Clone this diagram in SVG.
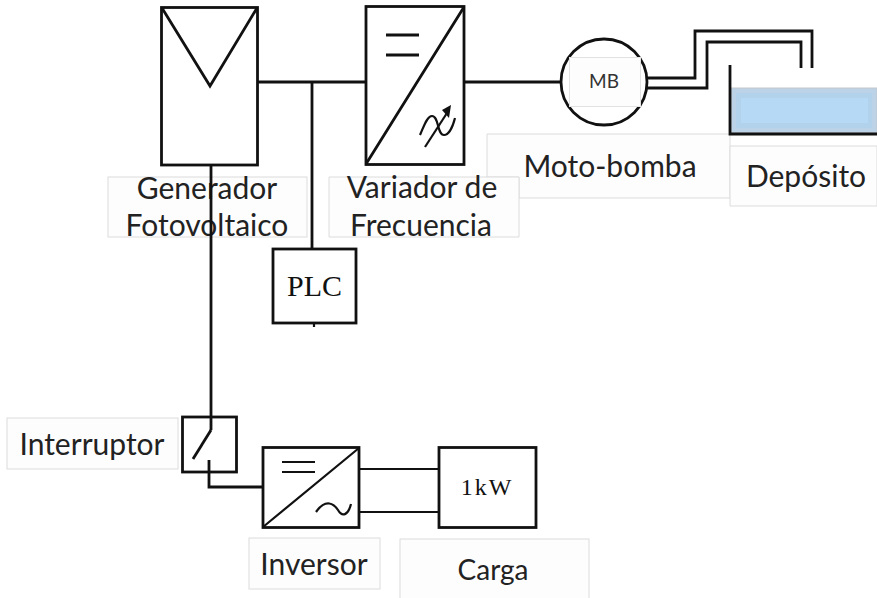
<svg xmlns="http://www.w3.org/2000/svg" width="877" height="598" viewBox="0 0 877 598">
<style>
.s{fill:none;stroke:#111;stroke-width:2.800;stroke-linecap:butt}
.t{stroke-width:2.200}
.l{fill:#fdfdfd;stroke:#dcdcdc;stroke-width:1}
.x{font-family:"Lato","Open Sans",sans-serif;font-size:30px;fill:#222;text-anchor:middle}
.r{font-family:"Liberation Serif",serif;fill:#111;text-anchor:middle}
</style>
<rect width="877" height="598" fill="#fff"/>
<g id="label-motobomba"><path class="l" d="M487 134H730V198H519V177H487Z"/><text class="x" x="610" y="177">Moto-bomba</text></g>
<g id="label-deposito"><path class="l" d="M730 146H877V206H730Z"/><text class="x" x="806" y="187">Depósito</text></g>
<g id="label-variador"><path class="l" d="M329 177H519V237H329Z"/><text class="x" x="422" y="198">Variador de</text><text class="x" x="421" y="236">Frecuencia</text></g>
<g id="label-generador"><rect class="l" x="108" y="177" width="199" height="60"/><text class="x" x="207" y="199">Generador</text><text class="x" x="207" y="236">Fotovoltaico</text></g>
<g id="connectors">
<path class="s" d="M258 82H366M312 82V249M464 82H562M211 165V430M209 460V487H263"/>
<path class="s" d="M646 78H695V31H812V68M646 88H707V42H801V68"/>
<path class="s t" d="M359 469H439M359 512H439M314 323V327"/>
</g>
<g id="generador"><rect class="s" x="161.500" y="7.500" width="96" height="157.500"/><path class="s" d="M162 8L210 86L257 8"/></g>
<g id="variador"><rect class="s" x="366" y="6.500" width="98" height="158"/><path class="s" d="M366 164L464 7M386 35H419M386 55H419"/><path class="s t" d="M425 147L447 113"/><path d="M451 105L442 110L449 118Z" fill="#111"/><path class="s t" d="M420 135C424 126 427 116 432 116C439 116 437 135 444 135C449 135 453 126 455 118"/></g>
<g id="motobomba"><circle class="s" cx="604" cy="82" r="43"/><rect x="569.500" y="57.500" width="71" height="49" fill="#fdfdfd" stroke="#e2e2e2"/><text x="604" y="88" font-family="Lato,sans-serif" font-size="19" fill="#333" text-anchor="middle">MB</text></g>
<g id="deposito"><rect x="731" y="88" width="146" height="45" fill="#bcd2e6" stroke="#c4c8cc"/><rect x="736" y="93" width="136" height="35" fill="#b2d2ec"/><rect x="741" y="98" width="127" height="25" fill="#b6daf6"/><path class="s" d="M730 65V134H877"/></g>
<g id="plc"><rect class="s" x="273" y="249" width="83" height="74"/><text class="r" x="314.500" y="296" font-size="30">PLC</text></g>
<g id="label-interruptor"><rect class="l" x="7" y="418" width="171" height="51"/><text class="x" x="92" y="455">Interruptor</text></g>
<g id="interruptor"><rect class="s" x="182.500" y="417" width="54" height="55"/><path class="s" d="M211 430L193 459"/></g>
<g id="inversor"><rect class="s" x="263" y="447.500" width="96" height="80"/><path class="s t" d="M263 527L359 448M282 462H315M282 472H315M316 512C326 498 334 504 338 510C342 517 348 516 351 504"/></g>
<g id="carga"><rect class="s" x="439" y="447.500" width="97" height="80"/><text class="r" x="487" y="495" font-size="24" letter-spacing="2">1kW</text></g>
<g id="label-inversor"><rect class="l" x="249" y="538" width="131" height="51"/><text class="x" x="314" y="575">Inversor</text></g>
<g id="label-carga"><rect class="l" x="400" y="539" width="189" height="62"/><text class="x" x="493" y="580" font-size="29" style="font-size:28px">Carga</text></g>
</svg>
